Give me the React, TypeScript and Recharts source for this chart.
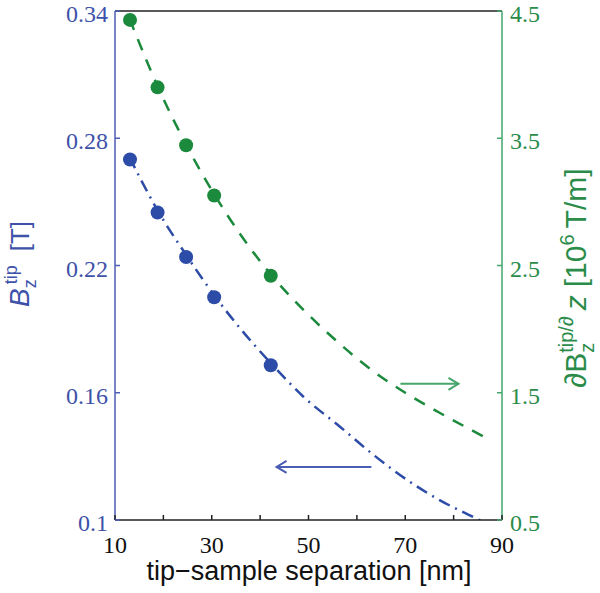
import { ComposedChart, Line, Scatter, XAxis, YAxis, ReferenceLine } from "recharts";

// measured points (tip-sample separation in nm)
const sepNm = [13.1, 18.8, 24.7, 30.5, 42.2];
const bzTip = [0.27, 0.245, 0.224, 0.205, 0.173];
const dBzTip = [4.43, 3.9, 3.445, 3.05, 2.42];

// fitted curves
const bzFitSep = [13, 18.8, 24.7, 30.5, 36, 42.2, 49, 56.5, 63, 70, 77, 84, 88];
const bzFit = [0.271, 0.246, 0.225, 0.206, 0.19, 0.174, 0.158, 0.144, 0.1315, 0.1195, 0.1095, 0.1015, 0.097];
const dBzFitSep = [13, 18.8, 24.7, 30.5, 36, 42.2, 49, 56, 63, 70, 77, 84, 87.5];
const dBzFit = [4.44, 3.91, 3.45, 3.06, 2.74, 2.43, 2.15, 1.9, 1.68, 1.5, 1.345, 1.2, 1.13];

const xTicks = [10, 20, 30, 40, 50, 60, 70, 80, 90];
const xLabels = [10, 30, 50, 70, 90];
const bzTicks = [0.1, 0.16, 0.22, 0.28, 0.34];
const dBzTicks = [0.5, 1.5, 2.5, 3.5, 4.5];

// arrows pointing to the axis each curve belongs to
const bzArrowSep = [63, 43.4];
const bzArrowLevel = 0.125;
const dBzArrowSep = [69, 81];
const dBzArrowLevel = 1.57;

const BLUE = "#2d4ca7";
const BLUE_AXIS = "#4b5db4";
const BLUE_TEXT = "#3e52a9";
const GREEN = "#1c8a3c";
const GREEN_AXIS = "#46a56b";
const GREEN_TEXT = "#2b8c4a";
const SERIF = "'Liberation Serif', 'Times New Roman', 'DejaVu Serif', serif";
const SANS = "'Liberation Sans', Arial, 'DejaVu Sans', sans-serif";

const bzPoints = sepNm.map((x, i) => ({ x, y: bzTip[i] }));
const dBzPoints = sepNm.map((x, i) => ({ x, y: dBzTip[i] }));
const bzCurve = bzFitSep.map((x, i) => ({ x, y: bzFit[i] }));
const dBzCurve = dBzFitSep.map((x, i) => ({ x, y: dBzFit[i] }));

const serifText = { fontFamily: SERIF, fontSize: 24 };

const BottomTick = (props: any) => {
  const { x, y, payload } = props;
  return (
    <g>
      <line x1={x} x2={x} y1={y} y2={y - 5} stroke="#222" strokeWidth={1.5} />
      {xLabels.includes(payload.value) && (
        <text x={x} y={y + 33} textAnchor="middle" style={serifText} fill="#111">
          {payload.value}
        </text>
      )}
    </g>
  );
};

const TopTick = (props: any) => {
  const { x, y } = props;
  return <line x1={x} x2={x} y1={y} y2={y + 5} stroke="#222" strokeWidth={1.5} />;
};

const LeftTick = (props: any) => {
  const { x, y, payload } = props;
  return (
    <g>
      <line x1={x} x2={x + 5} y1={y} y2={y} stroke={BLUE_AXIS} strokeWidth={1.5} />
      <text x={x - 7} y={y + 11} textAnchor="end" style={serifText} fill={BLUE_TEXT}>
        {String(payload.value)}
      </text>
    </g>
  );
};

const RightTick = (props: any) => {
  const { x, y, payload } = props;
  return (
    <g>
      <line x1={x - 5} x2={x} y1={y} y2={y} stroke={GREEN_AXIS} strokeWidth={1.5} />
      <text x={x + 8} y={y + 11} textAnchor="start" style={serifText} fill={GREEN_TEXT}>
        {String(payload.value)}
      </text>
    </g>
  );
};

const arrow = (color: string) => (props: any) => {
  const { x1, y1, x2, y2 } = props;
  const dir = Math.sign(x2 - x1) || 1;
  return (
    <g>
      <line x1={x1} y1={y1} x2={x2} y2={y2} stroke={color} strokeWidth={2} />
      <polyline
        points={`${x2 - dir * 10},${y2 - 6} ${x2},${y2} ${x2 - dir * 10},${y2 + 6}`}
        fill="none"
        stroke={color}
        strokeWidth={2}
      />
    </g>
  );
};

const dot = (color: string) => (props: any) => (
  <circle cx={props.cx} cy={props.cy} r={7} fill={color} />
);

export default function App() {
  return (
    <div style={{ position: "absolute", left: 0, top: 0, width: 600, height: 593, background: "#fff" }}>
      <ComposedChart width={600} height={593} margin={{ top: 0, right: 0, bottom: 0, left: 0 }}>
        <XAxis
          xAxisId="bottom"
          type="number"
          dataKey="x"
          domain={[10, 90]}
          ticks={xTicks}
          interval={0}
          height={73}
          tickSize={0}
          tickMargin={0}
          tickLine={false}
          axisLine={{ stroke: "#222", strokeWidth: 1.5 }}
          tick={<BottomTick />}
        />
        <XAxis
          xAxisId="top"
          orientation="top"
          type="number"
          dataKey="x"
          domain={[10, 90]}
          ticks={xLabels}
          interval={0}
          height={11}
          tickSize={0}
          tickMargin={0}
          tickLine={false}
          axisLine={{ stroke: "#222", strokeWidth: 1.5 }}
          tick={<TopTick />}
        />
        <YAxis
          yAxisId="left"
          type="number"
          domain={[0.1, 0.34]}
          allowDataOverflow
          ticks={bzTicks}
          interval={0}
          width={115}
          tickSize={0}
          tickMargin={0}
          tickLine={false}
          axisLine={{ stroke: BLUE_AXIS, strokeWidth: 1.5 }}
          tick={<LeftTick />}
        />
        <YAxis
          yAxisId="right"
          orientation="right"
          type="number"
          domain={[0.5, 4.5]}
          allowDataOverflow
          ticks={dBzTicks}
          interval={0}
          width={98}
          tickSize={0}
          tickMargin={0}
          tickLine={false}
          axisLine={{ stroke: GREEN_AXIS, strokeWidth: 1.5 }}
          tick={<RightTick />}
        />

        <Line
          xAxisId="bottom"
          yAxisId="left"
          data={bzCurve}
          dataKey="y"
          type="monotone"
          stroke={BLUE}
          strokeWidth={2.5}
          strokeDasharray="12 6 2 6"
          dot={false}
          isAnimationActive={false}
        />
        <Line
          xAxisId="bottom"
          yAxisId="right"
          data={dBzCurve}
          dataKey="y"
          type="monotone"
          stroke={GREEN}
          strokeWidth={2.5}
          strokeDasharray="12 10"
          dot={false}
          isAnimationActive={false}
        />
        <Scatter
          xAxisId="bottom"
          yAxisId="left"
          data={bzPoints}
          dataKey="y"
          shape={dot(BLUE)}
          isAnimationActive={false}
        />
        <Scatter
          xAxisId="bottom"
          yAxisId="right"
          data={dBzPoints}
          dataKey="y"
          shape={dot(GREEN)}
          isAnimationActive={false}
        />

        <ReferenceLine
          xAxisId="bottom"
          yAxisId="left"
          segment={[
            { x: bzArrowSep[0], y: bzArrowLevel },
            { x: bzArrowSep[1], y: bzArrowLevel },
          ]}
          shape={arrow(BLUE_AXIS)}
        />
        <ReferenceLine
          xAxisId="bottom"
          yAxisId="right"
          segment={[
            { x: dBzArrowSep[0], y: dBzArrowLevel },
            { x: dBzArrowSep[1], y: dBzArrowLevel },
          ]}
          shape={arrow(GREEN_AXIS)}
        />
      </ComposedChart>

      <svg
        width={600}
        height={593}
        style={{ position: "absolute", left: 0, top: 0, pointerEvents: "none" }}
      >
        <text
          transform="translate(29,264) rotate(-90)"
          textAnchor="middle"
          style={{ fontFamily: SANS, fontSize: 26 }}
          fill={BLUE_TEXT}
        >
          <tspan fontStyle="italic" style={{ fontSize: 28 }}>B</tspan>
          <tspan style={{ fontSize: 18 }} dy={7}>z</tspan>
          <tspan style={{ fontSize: 18 }} dx={-5} dy={-19}>tip</tspan>
          <tspan dx={14} dy={12}>[T]</tspan>
        </text>
        <text
          transform="translate(586,278) rotate(-90)"
          textAnchor="middle"
          style={{ fontFamily: SANS, fontSize: 30 }}
          fill={GREEN_TEXT}
        >
          <tspan>∂B</tspan>
          <tspan style={{ fontSize: 20 }} dy={8}>z</tspan>
          <tspan style={{ fontSize: 20 }} dx={-10} dy={-21}>tip/∂</tspan>
          <tspan fontStyle="italic" dx={6} dy={13}>z</tspan>
          <tspan dx={8}>[10</tspan>
          <tspan style={{ fontSize: 20 }} dy={-12}>6</tspan>
          <tspan dx={6} dy={12}>T/m]</tspan>
        </text>
        <text x={309} y={580} textAnchor="middle" style={{ fontFamily: SANS, fontSize: 27 }} fill="#111">
          tip−sample separation [nm]
        </text>
      </svg>
    </div>
  );
}
